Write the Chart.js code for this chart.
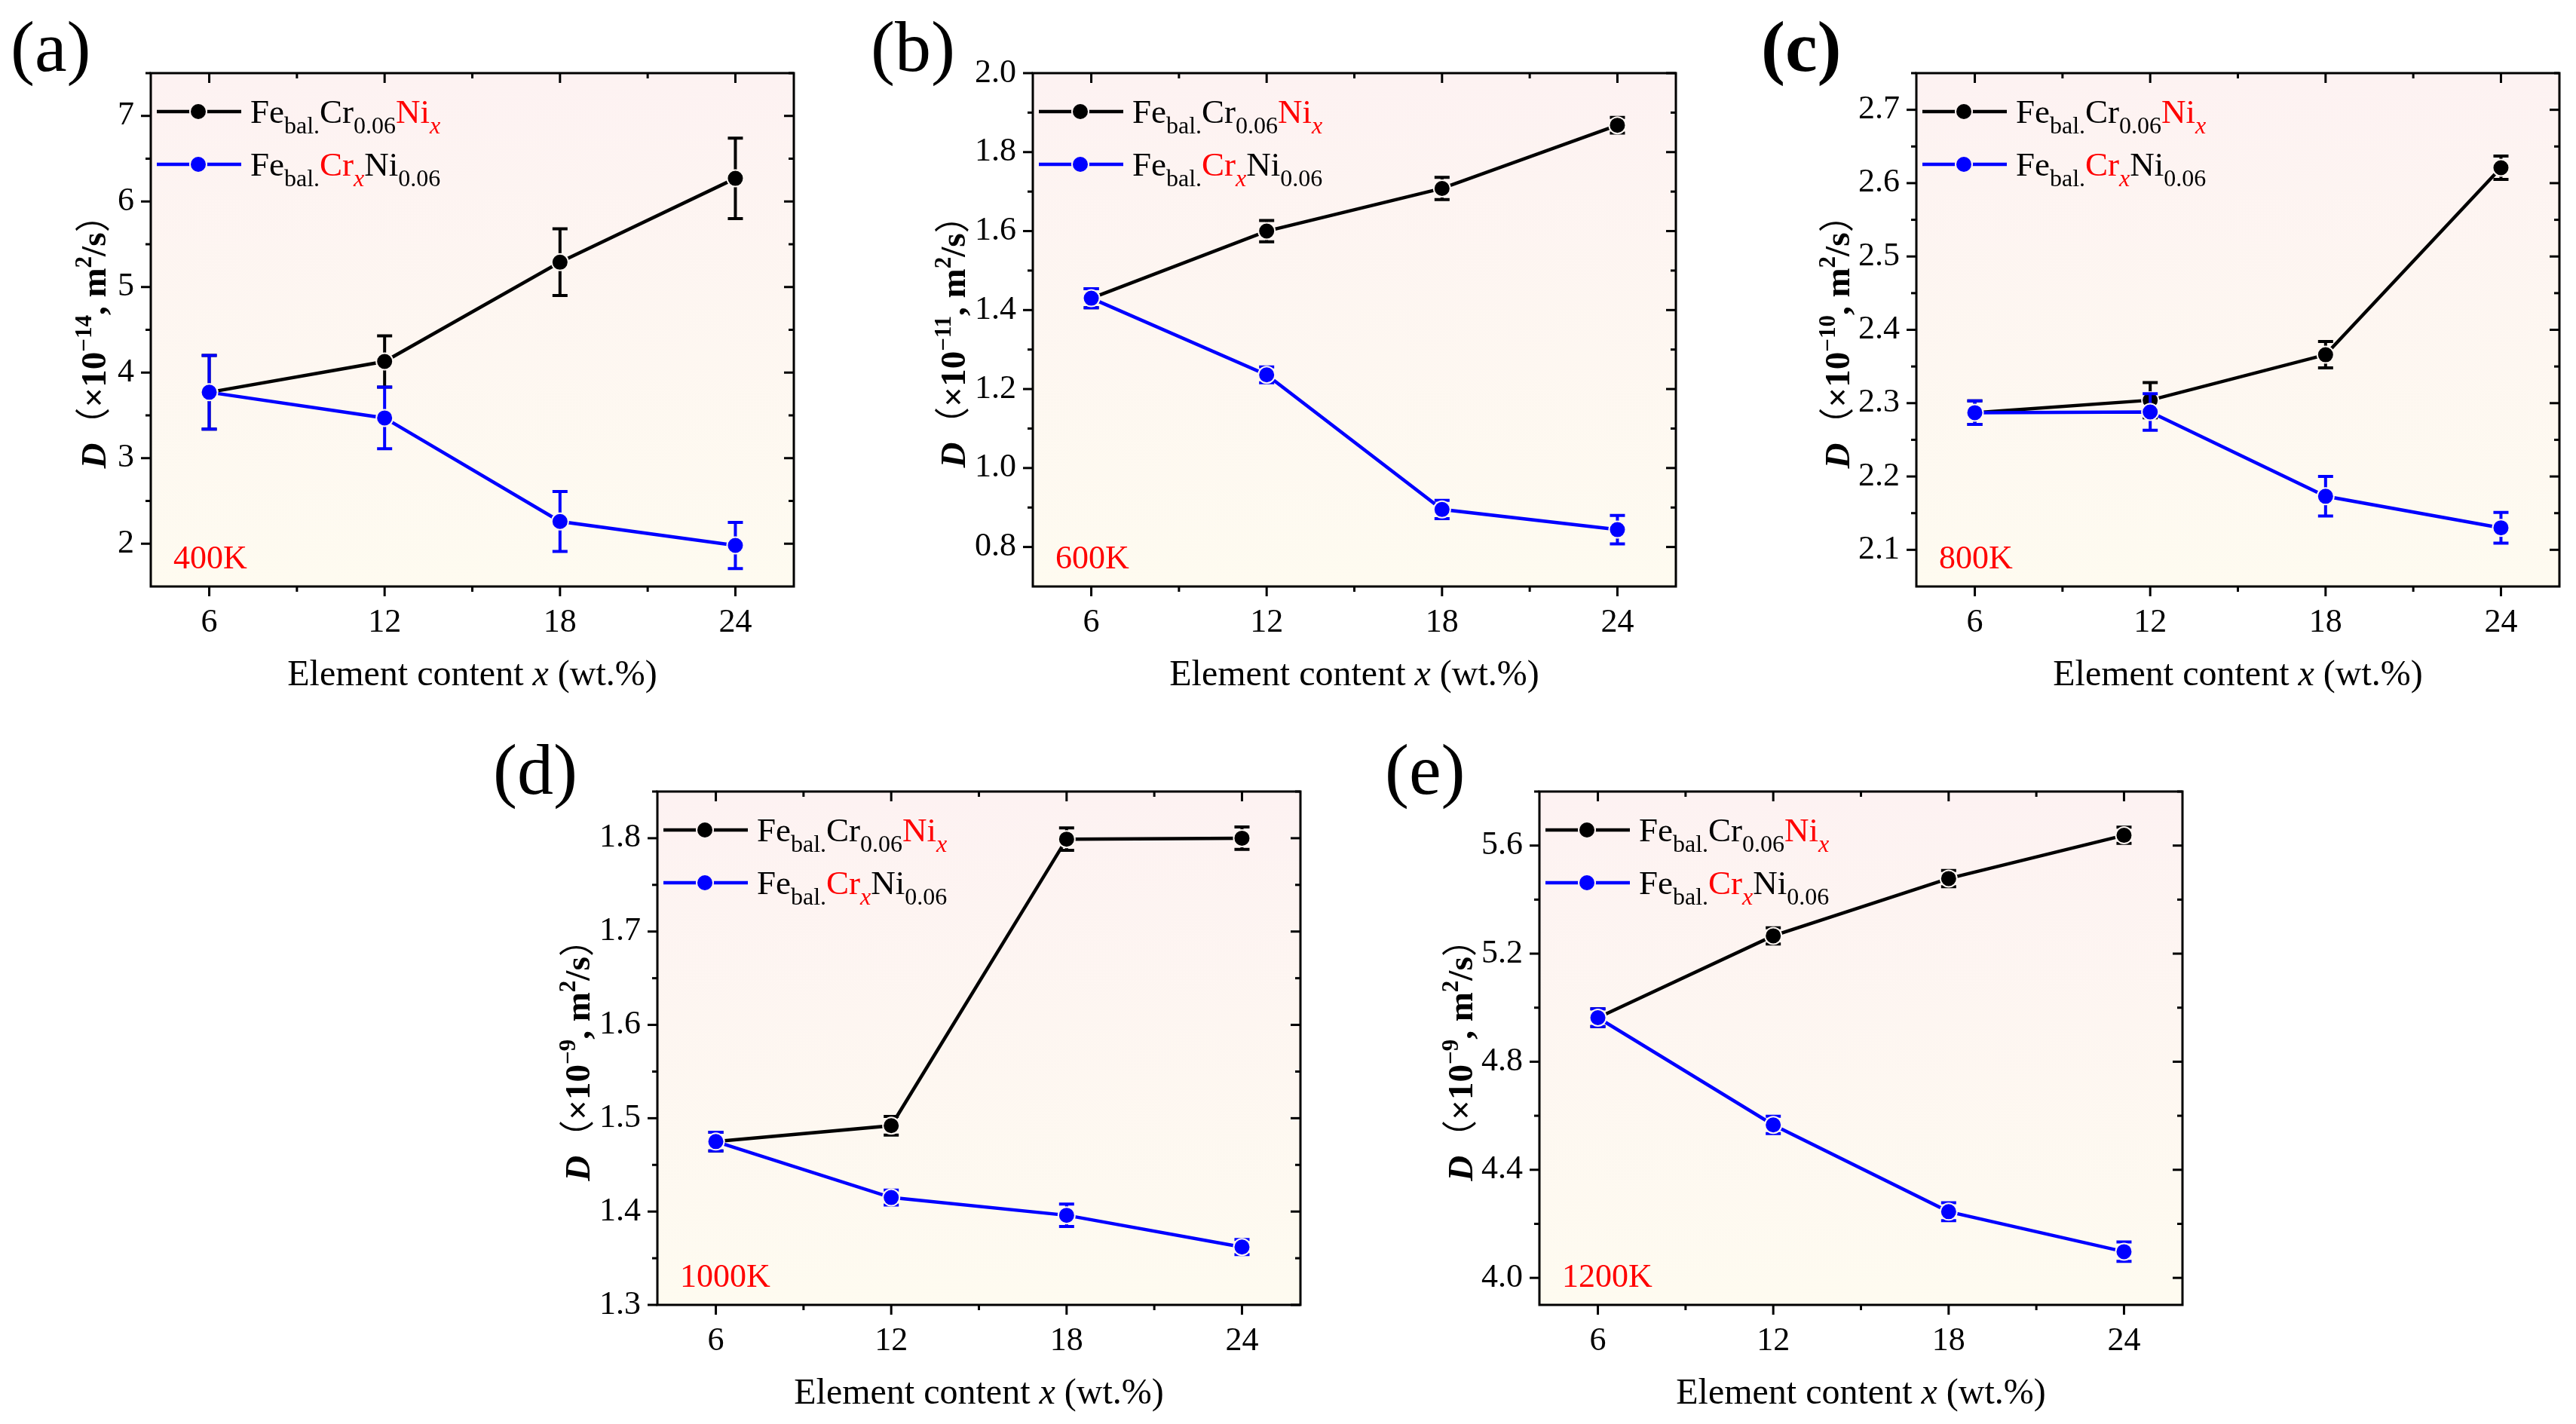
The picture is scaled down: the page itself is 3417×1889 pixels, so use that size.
<!DOCTYPE html>
<html>
<head>
<meta charset="utf-8">
<script src="https://cdn.jsdelivr.net/npm/chart.js@4.4.1/dist/chart.umd.min.js"></script>
<style>
html, body { margin: 0; padding: 0; background: #fff; width: 3417px; height: 1889px; overflow: hidden; position: relative; }
canvas { position: absolute; }
</style>
</head>
<body>
<canvas id="chart-a"></canvas>
<canvas id="chart-b"></canvas>
<canvas id="chart-c"></canvas>
<canvas id="chart-d"></canvas>
<canvas id="chart-e"></canvas>
<script>
// x: element content (wt.%)
const xValues = [6, 12, 18, 24];
const xTicks = [6, 12, 18, 24];
const xMinorTicks = [9, 15, 21];

// (a) 400K, x1e-14 m2/s
const niA = [3.77, 4.13, 5.29, 6.27];
const niAErr = [0.43, 0.30, 0.39, 0.47];
const crA = [3.77, 3.47, 2.26, 1.98];
const crAErr = [0.43, 0.36, 0.35, 0.27];
const yTicksA = [2, 3, 4, 5, 6, 7];

// (b) 600K, x1e-11 m2/s
const niB = [1.430, 1.600, 1.708, 1.868];
const niBErr = [0.024, 0.027, 0.028, 0.020];
const crB = [1.430, 1.236, 0.895, 0.844];
const crBErr = [0.024, 0.020, 0.023, 0.036];
const yTicksB = [0.8, 1.0, 1.2, 1.4, 1.6, 1.8, 2.0];

// (c) 800K, x1e-10 m2/s
const niC = [2.287, 2.304, 2.366, 2.621];
const niCErr = [0.016, 0.024, 0.018, 0.016];
const crC = [2.287, 2.288, 2.173, 2.130];
const crCErr = [0.016, 0.025, 0.027, 0.021];
const yTicksC = [2.1, 2.2, 2.3, 2.4, 2.5, 2.6, 2.7];

// (d) 1000K, x1e-9 m2/s
const niD = [1.475, 1.492, 1.799, 1.800];
const niDErr = [0.010, 0.010, 0.012, 0.012];
const crD = [1.475, 1.415, 1.396, 1.362];
const crDErr = [0.010, 0.008, 0.012, 0.008];
const yTicksD = [1.3, 1.4, 1.5, 1.6, 1.7, 1.8];

// (e) 1200K, x1e-9 m2/s
const niE = [4.963, 5.266, 5.478, 5.638];
const niEErr = [0.033, 0.030, 0.030, 0.030];
const crE = [4.963, 4.566, 4.245, 4.097];
const crEErr = [0.033, 0.032, 0.033, 0.036];
const yTicksE = [4.0, 4.4, 4.8, 5.2, 5.6];

// legend labels as [text, style] pieces
const legendNi = [["Fe"], ["bal.", "sub"], ["Cr"], ["0.06", "sub"], ["Ni", "red"], ["x", "sub italic red"]];
const legendCr = [["Fe"], ["bal.", "sub"], ["Cr", "red"], ["x", "sub italic red"], ["Ni"], ["0.06", "sub"]];
const xTitle = [["Element content "], ["x", "italic"], [" (wt.%)"]];

const SERIF = '"Liberation Serif", "Times New Roman", serif';
const CJK = '"Noto Sans CJK SC", sans-serif';
const BLACK = "#000000", BLUE = "#0000ff", RED = "#ff0000";
const PAD_L = 240, PAD_T = 110, PAD_R = 30, PAD_B = 150;
const PLOT_W = 853, PLOT_H = 681;

const panels = [
    { id: "chart-a", letter: "(a)", temp: "400K", exp: "\u221214", ni: niA, niErr: niAErr, cr: crA, crErr: crAErr, yTicks: yTicksA, yMin: 1.5, yMax: 7.5, dec: 0, left: 200, top: 97, letterDx: -186, letterDy: -3, titleDx: -60 },
    { id: "chart-b", letter: "(b)", temp: "600K", exp: "\u221211", ni: niB, niErr: niBErr, cr: crB, crErr: crBErr, yTicks: yTicksB, yMin: 0.7, yMax: 2.0, dec: 1, left: 1370, top: 97, letterDx: -215, letterDy: -3, titleDx: -90 },
    { id: "chart-c", letter: "(c)", temp: "800K", exp: "\u221210", ni: niC, niErr: niCErr, cr: crC, crErr: crCErr, yTicks: yTicksC, yMin: 2.05, yMax: 2.75, dec: 1, left: 2542, top: 97, letterDx: -206, letterDy: -3, titleDx: -89, boldLetter: true },
    { id: "chart-d", letter: "(d)", temp: "1000K", exp: "\u22129", ni: niD, niErr: niDErr, cr: crD, crErr: crDErr, yTicks: yTicksD, yMin: 1.3, yMax: 1.85, dec: 1, left: 872, top: 1050, letterDx: -218, letterDy: 3, titleDx: -90 },
    { id: "chart-e", letter: "(e)", temp: "1200K", exp: "\u22129", ni: niE, niErr: niEErr, cr: crE, crErr: crEErr, yTicks: yTicksE, yMin: 3.9, yMax: 5.8, dec: 1, left: 2042, top: 1050, letterDx: -205, letterDy: 3, titleDx: -89 }
];

function fontOf(style, size) {
    const s = style || "";
    const italic = s.includes("italic") ? "italic " : "";
    const bold = s.includes("bold") ? "bold " : "";
    const family = s.includes("cjk") ? CJK : SERIF;
    return `${italic}${bold}${size}px ${family}`;
}

// pieces: [text, style]; base: main font size
function layoutRich(ctx, pieces, base) {
    return pieces.map(([t, style = ""]) => {
        let size = base, dy = 0;
        if (style.includes("sub")) { size = Math.round(base * 0.71); dy = base * 0.31; }
        if (style.includes("sup")) { size = Math.round(base * 0.66); dy = -base * 0.4; }
        const font = fontOf(style, size);
        ctx.font = font;
        return { t, font, dy, color: style.includes("red") ? RED : BLACK, w: ctx.measureText(t).width };
    });
}

function drawRich(ctx, pieces, base, x, y, align) {
    const items = layoutRich(ctx, pieces, base);
    const total = items.reduce((a, b) => a + b.w, 0);
    let cx = align === "center" ? x - total / 2 : x;
    ctx.textAlign = "left";
    ctx.textBaseline = "alphabetic";
    for (const it of items) {
        ctx.font = it.font;
        ctx.fillStyle = it.color;
        ctx.fillText(it.t, cx, y + it.dy);
        cx += it.w;
    }
}

const errorBars = {
    id: "errorBars",
    beforeDatasetDraw(chart, args) {
        const ds = chart.data.datasets[args.index];
        const ys = chart.scales.y;
        const ctx = chart.ctx;
        ctx.save();
        ctx.strokeStyle = ds.borderColor;
        ctx.lineWidth = 4;
        args.meta.data.forEach((pt, i) => {
            const v = ds.data[i].y, e = ds.errors[i];
            const y1 = ys.getPixelForValue(v + e), y2 = ys.getPixelForValue(v - e);
            ctx.beginPath();
            ctx.moveTo(pt.x, y1); ctx.lineTo(pt.x, y2);
            ctx.moveTo(pt.x - 10, y1); ctx.lineTo(pt.x + 10, y1);
            ctx.moveTo(pt.x - 10, y2); ctx.lineTo(pt.x + 10, y2);
            ctx.stroke();
        });
        ctx.restore();
    }
};

const frame = {
    id: "frame",
    beforeDraw(chart) {
        const { ctx, chartArea: a } = chart;
        const g = ctx.createLinearGradient(0, a.top, 0, a.bottom);
        g.addColorStop(0, "rgb(253,242,242)");
        g.addColorStop(1, "rgb(254,251,240)");
        ctx.save();
        ctx.fillStyle = g;
        ctx.fillRect(a.left, a.top, a.right - a.left, a.bottom - a.top);
        ctx.restore();
    },
    afterDraw(chart) {
        const { ctx, chartArea: a, scales } = chart;
        const p = chart.options.plugins.frame.panel;
        ctx.save();
        ctx.strokeStyle = BLACK;
        ctx.lineWidth = 3;
        ctx.strokeRect(a.left, a.top, a.right - a.left, a.bottom - a.top);
        const tick = (x1, y1, x2, y2) => { ctx.beginPath(); ctx.moveTo(x1, y1); ctx.lineTo(x2, y2); ctx.stroke(); };
        xTicks.forEach(v => {
            const x = scales.x.getPixelForValue(v);
            tick(x, a.bottom, x, a.bottom + 13);
            tick(x, a.top, x, a.top + 13);
        });
        xMinorTicks.forEach(v => {
            const x = scales.x.getPixelForValue(v);
            tick(x, a.bottom, x, a.bottom + 7);
            tick(x, a.top, x, a.top + 7);
        });
        const yt = p.yTicks;
        yt.forEach(v => {
            const y = scales.y.getPixelForValue(v);
            tick(a.left - 13, y, a.left, y);
            tick(a.right - 13, y, a.right, y);
        });
        const step = yt[1] - yt[0];
        for (let m = yt[0] - step / 2; m < p.yMax + 1e-9; m += step) {
            if (m <= p.yMin + 1e-9) continue;
            const y = scales.y.getPixelForValue(m);
            tick(a.left - 7, y, a.left, y);
            tick(a.right - 7, y, a.right, y);
        }

        // legend
        [[legendNi, BLACK, 51], [legendCr, BLUE, 121]].forEach(([pieces, color, dy]) => {
            const y = a.top + dy;
            ctx.strokeStyle = color;
            ctx.lineWidth = 4.5;
            tick(a.left + 8, y, a.left + 120, y);
            ctx.fillStyle = "rgb(253,243,242)";
            ctx.beginPath(); ctx.arc(a.left + 63, y, 12, 0, Math.PI * 2); ctx.fill();
            ctx.fillStyle = color;
            ctx.beginPath(); ctx.arc(a.left + 63, y, 10, 0, Math.PI * 2); ctx.fill();
            drawRich(ctx, pieces, 45, a.left + 132, y + 15, "left");
        });

        // temperature
        drawRich(ctx, [[p.temp, "red"]], 44, a.left + 30, a.bottom - 24, "left");

        // panel letter
        drawRich(ctx, [[p.letter, p.boldLetter ? "bold" : ""]], 96, a.left + p.letterDx, a.top + p.letterDy, "left");

        // x title
        drawRich(ctx, xTitle, 48, (a.left + a.right) / 2, a.bottom + 131, "center");

        // y title
        const yTitle = [["D", "bold italic"], ["\uFF08", "cjk"], ["\u00D710", "bold"], [p.exp, "sup bold"], [", m", "bold"], ["2", "sup bold"], ["/s", "bold"], ["\uFF09", "cjk"]];
        ctx.translate(a.left + p.titleDx, (a.top + a.bottom) / 2 + 4);
        ctx.rotate(-Math.PI / 2);
        drawRich(ctx, yTitle, 47, 0, 0, "center");
        ctx.restore();
    }
};

function makeChart(p) {
    const canvas = document.getElementById(p.id);
    const w = PLOT_W + PAD_L + PAD_R, h = PLOT_H + PAD_T + PAD_B;
    canvas.width = w; canvas.height = h;
    canvas.style.width = w + "px"; canvas.style.height = h + "px";
    canvas.style.left = (p.left - PAD_L) + "px";
    canvas.style.top = (p.top - PAD_T) + "px";
    const pts = arr => xValues.map((x, i) => ({ x, y: arr[i] }));
    const ring = "rgb(253,246,242)";
    return new Chart(canvas.getContext("2d"), {
        type: "line",
        data: {
            datasets: [
                { label: "Ni", data: pts(p.ni), errors: p.niErr, borderColor: BLACK, backgroundColor: BLACK, pointBackgroundColor: BLACK, pointBorderColor: ring, pointBorderWidth: 2, pointRadius: 11, borderWidth: 4.5, tension: 0, order: 1 },
                { label: "Cr", data: pts(p.cr), errors: p.crErr, borderColor: BLUE, backgroundColor: BLUE, pointBackgroundColor: BLUE, pointBorderColor: ring, pointBorderWidth: 2, pointRadius: 11, borderWidth: 4.5, tension: 0, order: 0 }
            ]
        },
        options: {
            responsive: false,
            animation: false,
            devicePixelRatio: 1,
            layout: { padding: { left: 0, top: PAD_T, right: PAD_R, bottom: 0 } },
            scales: {
                x: {
                    type: "linear", min: 4, max: 26,
                    afterBuildTicks: s => { s.ticks = xTicks.map(v => ({ value: v })); },
                    afterFit: s => { s.height = PAD_B; },
                    grid: { display: false, drawTicks: false },
                    border: { display: false },
                    ticks: { color: BLACK, font: { family: SERIF, size: 44 }, padding: 22, maxRotation: 0, autoSkip: false, callback: v => String(v) }
                },
                y: {
                    type: "linear", min: p.yMin, max: p.yMax,
                    afterBuildTicks: s => { s.ticks = p.yTicks.map(v => ({ value: v })); },
                    afterFit: s => { s.width = PAD_L; },
                    grid: { display: false, drawTicks: false },
                    border: { display: false },
                    ticks: { color: BLACK, font: { family: SERIF, size: 44 }, padding: 22, autoSkip: false, callback: v => v.toFixed(p.dec) }
                }
            },
            plugins: {
                legend: { display: false },
                tooltip: { enabled: false },
                frame: { panel: p }
            }
        },
        plugins: [frame, errorBars]
    });
}

panels.forEach(makeChart);
</script>
</body>
</html>
